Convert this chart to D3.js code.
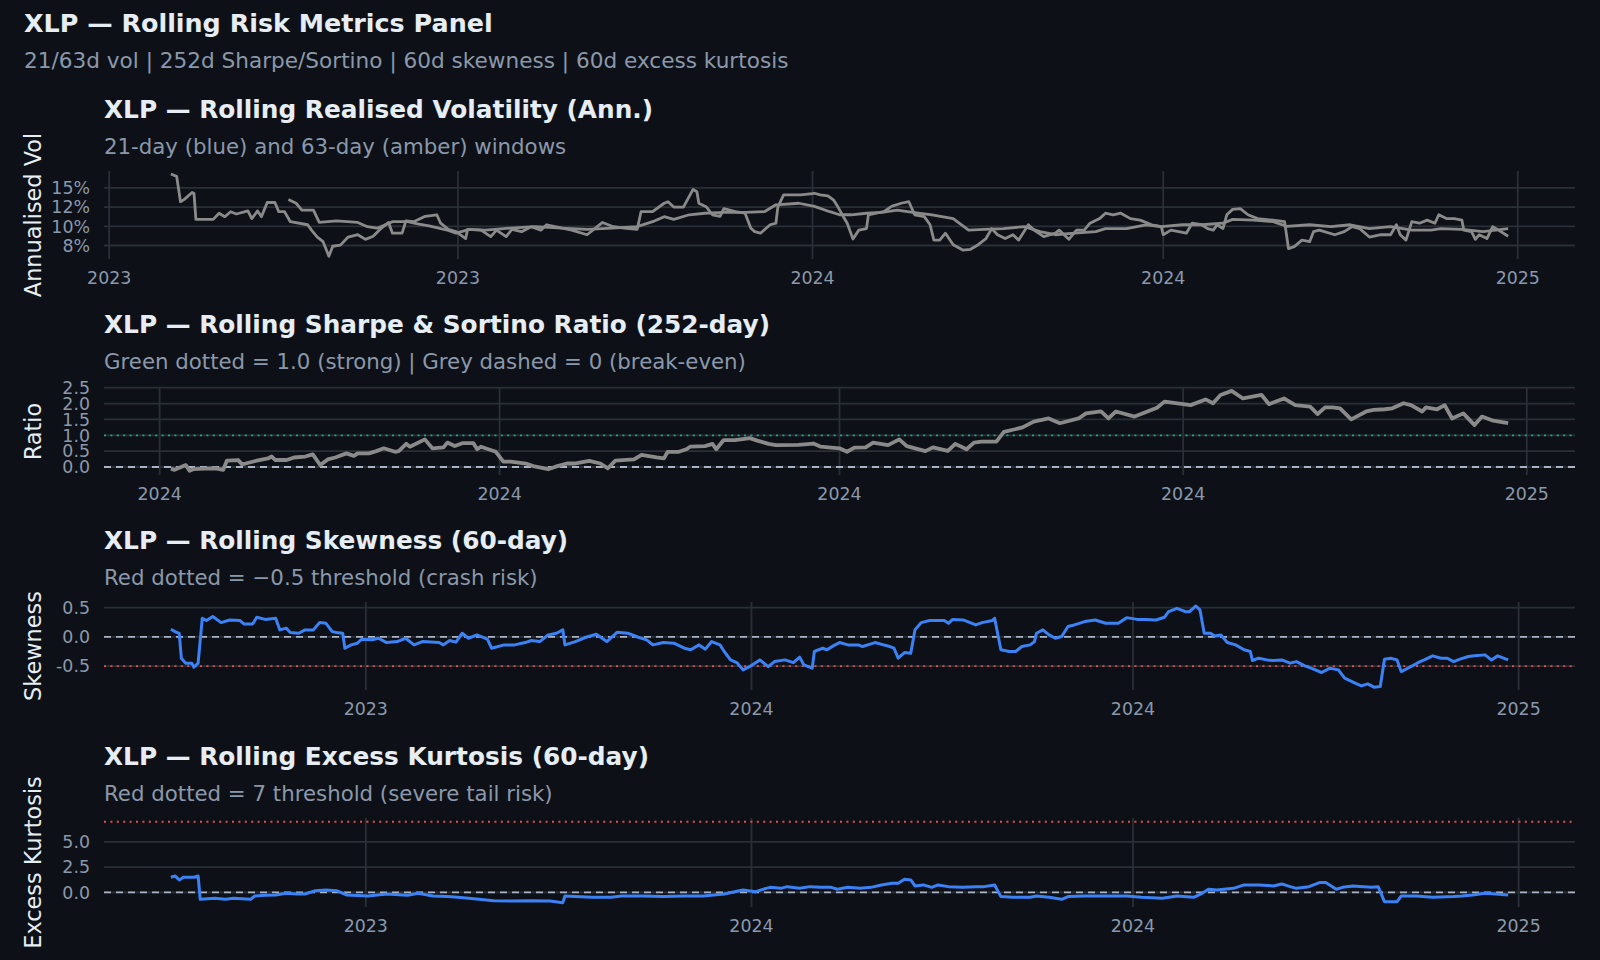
<!DOCTYPE html>
<html>
<head>
<meta charset="utf-8">
<script src="https://cdnjs.cloudflare.com/ajax/libs/d3/7.8.5/d3.min.js"></script>
<style>
body { margin: 0; background: #0d1117; }
svg { display: block; font-family: "DejaVu Sans", sans-serif; }
</style>
</head>
<body>
<script>
// rolling 21-day and 63-day annualised vol, in %
var vol21 = [["2023-02-02",16.8],["2023-02-05",16.5],["2023-02-07",13.2],["2023-02-09",13.5],["2023-02-13",14.4],["2023-02-14",14.3],["2023-02-15",10.9],["2023-02-24",10.9],["2023-02-27",11.7],["2023-03-02",11.25],["2023-03-05",11.9],["2023-03-08",11.6],["2023-03-14",12.0],["2023-03-16",11.0],["2023-03-19",12.0],["2023-03-21",11.25],["2023-03-24",13.1],["2023-03-28",13.1],["2023-03-30",11.9],["2023-04-02",11.9],["2023-04-05",10.6],["2023-04-14",10.2],["2023-04-16",9.5],["2023-04-19",8.6],["2023-04-22",8.0],["2023-04-25",6.1],["2023-04-27",7.4],["2023-05-01",7.55],["2023-05-05",8.6],["2023-05-10",8.9],["2023-05-14",8.3],["2023-05-18",8.7],["2023-05-22",9.7],["2023-05-26",10.5],["2023-05-28",9.1],["2023-06-02",9.1],["2023-06-04",10.7],["2023-06-08",10.6],["2023-06-14",11.3],["2023-06-20",11.5],["2023-06-22",10.4],["2023-06-26",9.6],["2023-06-30",9.3],["2023-07-05",8.4],["2023-07-06",9.6],["2023-07-13",9.5],["2023-07-18",8.65],["2023-07-21",9.5],["2023-07-26",8.65],["2023-07-29",9.6],["2023-08-03",9.3],["2023-08-08",9.95],["2023-08-13",9.5],["2023-08-16",10.2],["2023-08-24",9.75],["2023-08-29",9.5],["2023-09-06",8.9],["2023-09-14",10.5],["2023-09-19",10.0],["2023-09-25",9.75],["2023-10-02",9.6],["2023-10-04",11.9],["2023-10-10",11.9],["2023-10-16",13.0],["2023-10-18",13.2],["2023-10-21",12.5],["2023-10-26",12.5],["2023-10-31",14.8],["2023-11-02",14.5],["2023-11-03",13.0],["2023-11-07",12.5],["2023-11-10",11.5],["2023-11-14",11.3],["2023-11-16",12.3],["2023-11-22",11.9],["2023-11-27",11.7],["2023-11-30",9.75],["2023-12-02",9.3],["2023-12-05",9.1],["2023-12-10",10.2],["2023-12-13",10.4],["2023-12-14",12.5],["2023-12-17",14.1],["2023-12-26",14.1],["2024-01-02",14.3],["2024-01-05",14.1],["2024-01-09",13.95],["2024-01-12",13.4],["2024-01-14",12.6],["2024-01-17",11.25],["2024-01-19",10.4],["2024-01-22",8.35],["2024-01-25",9.5],["2024-01-29",9.7],["2024-01-30",11.5],["2024-02-03",11.7],["2024-02-07",11.9],["2024-02-11",12.6],["2024-02-16",13.0],["2024-02-20",13.2],["2024-02-23",11.5],["2024-02-28",11.25],["2024-03-02",10.2],["2024-03-04",8.2],["2024-03-07",8.2],["2024-03-10",9.1],["2024-03-14",7.6],["2024-03-19",6.9],["2024-03-23",7.0],["2024-03-27",7.6],["2024-03-31",8.4],["2024-04-03",9.7],["2024-04-06",8.9],["2024-04-10",8.4],["2024-04-14",8.9],["2024-04-17",8.2],["2024-04-22",10.2],["2024-04-25",9.5],["2024-04-30",8.65],["2024-05-06",9.1],["2024-05-08",9.5],["2024-05-13",8.3],["2024-05-17",9.5],["2024-05-21",9.5],["2024-05-24",10.4],["2024-05-29",11.0],["2024-06-01",11.7],["2024-06-05",11.5],["2024-06-09",11.7],["2024-06-14",11.0],["2024-06-19",10.8],["2024-06-25",10.2],["2024-06-30",9.95],["2024-07-01",8.9],["2024-07-05",9.5],["2024-07-13",9.1],["2024-07-16",10.4],["2024-07-21",10.2],["2024-07-24",9.7],["2024-07-27",9.5],["2024-07-29",10.2],["2024-08-01",9.7],["2024-08-03",11.5],["2024-08-06",12.2],["2024-08-10",12.3],["2024-08-14",11.5],["2024-08-19",11.0],["2024-08-27",10.8],["2024-09-02",10.6],["2024-09-04",7.1],["2024-09-07",7.35],["2024-09-11",8.2],["2024-09-15",8.0],["2024-09-17",9.3],["2024-09-20",9.5],["2024-09-28",8.9],["2024-10-03",9.3],["2024-10-07",9.95],["2024-10-11",9.7],["2024-10-16",8.6],["2024-10-22",8.9],["2024-10-27",8.9],["2024-10-30",10.2],["2024-11-01",8.9],["2024-11-04",8.2],["2024-11-07",10.6],["2024-11-11",10.4],["2024-11-15",10.8],["2024-11-19",10.4],["2024-11-21",11.5],["2024-11-25",11.0],["2024-11-29",11.0],["2024-12-03",10.8],["2024-12-04",9.5],["2024-12-08",9.3],["2024-12-10",8.3],["2024-12-12",8.9],["2024-12-16",8.4],["2024-12-19",9.95],["2024-12-22",9.5],["2024-12-27",8.7]]
var vol63 = [["2023-04-04",13.5],["2023-04-08",13.0],["2023-04-11",12.1],["2023-04-17",12.1],["2023-04-20",10.5],["2023-04-29",10.7],["2023-05-10",10.5],["2023-05-15",9.95],["2023-05-20",9.75],["2023-05-28",10.6],["2023-06-05",10.6],["2023-06-10",10.3],["2023-06-16",10.05],["2023-06-21",9.75],["2023-06-26",9.45],["2023-06-30",9.1],["2023-07-07",9.6],["2023-07-15",9.5],["2023-07-28",9.75],["2023-08-10",9.95],["2023-08-24",9.75],["2023-09-06",9.6],["2023-09-19",9.75],["2023-10-02",9.95],["2023-10-10",10.6],["2023-10-16",11.25],["2023-10-21",10.9],["2023-10-29",11.5],["2023-11-06",11.7],["2023-11-16",11.8],["2023-11-27",11.8],["2023-12-07",11.9],["2023-12-13",12.8],["2023-12-25",13.0],["2024-01-02",12.6],["2024-01-10",11.9],["2024-01-15",11.5],["2024-01-21",11.5],["2024-01-29",11.7],["2024-02-06",11.8],["2024-02-14",12.1],["2024-02-22",11.8],["2024-03-03",11.5],["2024-03-14",11.0],["2024-03-22",9.5],["2024-03-30",9.6],["2024-04-09",9.7],["2024-04-20",9.95],["2024-04-28",9.3],["2024-05-06",8.9],["2024-05-16",9.1],["2024-05-27",9.3],["2024-06-01",9.7],["2024-06-12",9.7],["2024-06-22",10.2],["2024-06-30",9.95],["2024-07-11",10.2],["2024-07-21",10.2],["2024-08-01",10.4],["2024-08-06",10.9],["2024-08-17",10.8],["2024-08-27",10.6],["2024-09-03",10.0],["2024-09-15",10.2],["2024-09-26",9.95],["2024-10-06",10.2],["2024-10-16",9.7],["2024-10-27",9.95],["2024-11-07",9.5],["2024-11-17",9.5],["2024-11-22",9.7],["2024-12-03",9.6],["2024-12-14",9.3],["2024-12-27",9.7]]

// rolling 252-day sharpe ratio
var sharpe = [["2024-01-04",-0.05],["2024-01-05",-0.09],["2024-01-08",0.06],["2024-01-09",-0.12],["2024-01-10",-0.07],["2024-01-13",-0.05],["2024-01-16",-0.04],["2024-01-18",-0.09],["2024-01-19",0.2],["2024-01-22",0.22],["2024-01-23",0.09],["2024-01-24",0.11],["2024-01-27",0.2],["2024-01-30",0.27],["2024-01-31",0.33],["2024-02-01",0.22],["2024-02-04",0.22],["2024-02-06",0.3],["2024-02-09",0.33],["2024-02-11",0.4],["2024-02-13",0.06],["2024-02-15",0.24],["2024-02-17",0.3],["2024-02-20",0.43],["2024-02-22",0.35],["2024-02-23",0.43],["2024-02-26",0.43],["2024-02-28",0.5],["2024-03-01",0.59],["2024-03-04",0.48],["2024-03-05",0.5],["2024-03-07",0.73],["2024-03-08",0.64],["2024-03-12",0.87],["2024-03-14",0.59],["2024-03-17",0.62],["2024-03-18",0.77],["2024-03-20",0.66],["2024-03-22",0.75],["2024-03-25",0.75],["2024-03-26",0.56],["2024-03-27",0.64],["2024-03-29",0.56],["2024-03-31",0.48],["2024-04-02",0.17],["2024-04-04",0.17],["2024-04-08",0.11],["2024-04-10",0.03],["2024-04-14",-0.07],["2024-04-16",0.01],["2024-04-19",0.11],["2024-04-21",0.11],["2024-04-25",0.19],["2024-04-28",0.11],["2024-04-30",-0.04],["2024-05-02",0.2],["2024-05-07",0.24],["2024-05-09",0.38],["2024-05-13",0.3],["2024-05-15",0.27],["2024-05-16",0.48],["2024-05-19",0.48],["2024-05-21",0.56],["2024-05-22",0.64],["2024-05-26",0.66],["2024-05-28",0.73],["2024-05-29",0.56],["2024-05-31",0.85],["2024-06-03",0.85],["2024-06-07",0.91],["2024-06-09",0.83],["2024-06-12",0.73],["2024-06-14",0.69],["2024-06-20",0.7],["2024-06-24",0.74],["2024-06-26",0.64],["2024-06-28",0.62],["2024-07-01",0.59],["2024-07-03",0.48],["2024-07-05",0.61],["2024-07-08",0.62],["2024-07-10",0.77],["2024-07-14",0.69],["2024-07-17",0.87],["2024-07-19",0.66],["2024-07-24",0.5],["2024-07-26",0.62],["2024-07-30",0.51],["2024-08-01",0.73],["2024-08-04",0.56],["2024-08-06",0.77],["2024-08-08",0.8],["2024-08-12",0.8],["2024-08-14",1.11],["2024-08-17",1.19],["2024-08-19",1.25],["2024-08-22",1.43],["2024-08-26",1.53],["2024-08-29",1.38],["2024-09-03",1.53],["2024-09-05",1.69],["2024-09-09",1.75],["2024-09-11",1.53],["2024-09-13",1.75],["2024-09-18",1.59],["2024-09-24",1.87],["2024-09-26",2.06],["2024-10-03",1.95],["2024-10-07",2.13],["2024-10-09",2.01],["2024-10-11",2.27],["2024-10-14",2.4],["2024-10-17",2.16],["2024-10-22",2.27],["2024-10-24",1.98],["2024-10-28",2.16],["2024-10-31",1.95],["2024-11-04",1.9],["2024-11-06",1.67],["2024-11-08",1.88],["2024-11-10",1.88],["2024-11-12",1.85],["2024-11-15",1.5],["2024-11-19",1.75],["2024-11-21",1.8],["2024-11-24",1.82],["2024-11-26",1.85],["2024-11-29",2.01],["2024-12-01",1.95],["2024-12-04",1.75],["2024-12-05",1.88],["2024-12-08",1.82],["2024-12-10",1.95],["2024-12-12",1.53],["2024-12-15",1.69],["2024-12-18",1.32],["2024-12-20",1.59],["2024-12-23",1.46],["2024-12-27",1.38]]

// rolling 60-day skewness
var skew = [["2023-03-30",0.13],["2023-04-01",0.09],["2023-04-03",0.06],["2023-04-04",-0.365],["2023-04-06",-0.45],["2023-04-09",-0.45],["2023-04-10",-0.52],["2023-04-12",-0.45],["2023-04-14",0.32],["2023-04-16",0.28],["2023-04-19",0.35],["2023-04-23",0.245],["2023-04-27",0.29],["2023-05-02",0.28],["2023-05-04",0.22],["2023-05-08",0.22],["2023-05-10",0.336],["2023-05-14",0.30],["2023-05-19",0.32],["2023-05-21",0.12],["2023-05-24",0.15],["2023-05-26",0.074],["2023-05-30",0.063],["2023-06-02",0.12],["2023-06-06",0.12],["2023-06-09",0.245],["2023-06-12",0.233],["2023-06-15",0.09],["2023-06-17",0.074],["2023-06-20",0.063],["2023-06-21",-0.194],["2023-06-24",-0.137],["2023-06-27",-0.108],["2023-06-29",-0.04],["2023-07-04",-0.05],["2023-07-07",-0.023],["2023-07-11",-0.097],["2023-07-16",-0.08],["2023-07-20",-0.023],["2023-07-24",-0.137],["2023-07-28",-0.08],["2023-08-05",-0.097],["2023-08-07",-0.137],["2023-08-10",-0.062],["2023-08-13",-0.09],["2023-08-16",0.063],["2023-08-19",-0.023],["2023-08-23",0.034],["2023-08-28",-0.04],["2023-08-30",-0.194],["2023-09-05",-0.137],["2023-09-10",-0.137],["2023-09-15",-0.097],["2023-09-18",-0.062],["2023-09-22",-0.08],["2023-09-26",0.034],["2023-09-30",0.063],["2023-10-03",0.12],["2023-10-04",-0.137],["2023-10-09",-0.08],["2023-10-14",-0.006],["2023-10-19",0.046],["2023-10-24",-0.08],["2023-10-29",0.08],["2023-11-03",0.063],["2023-11-08",-0.006],["2023-11-12",-0.05],["2023-11-15",-0.137],["2023-11-20",-0.097],["2023-11-25",-0.108],["2023-11-30",-0.194],["2023-12-03",-0.22],["2023-12-07",-0.137],["2023-12-10",-0.21],["2023-12-13",-0.08],["2023-12-17",-0.137],["2023-12-19",-0.25],["2023-12-22",-0.394],["2023-12-25",-0.44],["2023-12-28",-0.565],["2023-12-31",-0.51],["2024-01-05",-0.394],["2024-01-09",-0.51],["2024-01-12",-0.423],["2024-01-17",-0.394],["2024-01-21",-0.44],["2024-01-24",-0.348],["2024-01-26",-0.48],["2024-01-30",-0.536],["2024-01-31",-0.25],["2024-02-04",-0.194],["2024-02-06",-0.22],["2024-02-09",-0.154],["2024-02-12",-0.097],["2024-02-16",-0.137],["2024-02-21",-0.137],["2024-02-23",-0.165],["2024-02-27",-0.12],["2024-02-29",-0.097],["2024-03-04",-0.137],["2024-03-07",-0.165],["2024-03-09",-0.194],["2024-03-11",-0.365],["2024-03-14",-0.268],["2024-03-17",-0.28],["2024-03-19",0.12],["2024-03-22",0.245],["2024-03-26",0.28],["2024-04-02",0.28],["2024-04-04",0.233],["2024-04-06",0.30],["2024-04-11",0.29],["2024-04-17",0.205],["2024-04-20",0.245],["2024-04-25",0.28],["2024-04-26",0.32],["2024-04-29",-0.22],["2024-05-03",-0.25],["2024-05-06",-0.25],["2024-05-09",-0.165],["2024-05-13",-0.137],["2024-05-15",-0.08],["2024-05-16",0.063],["2024-05-19",0.12],["2024-05-22",0.034],["2024-05-25",-0.023],["2024-05-28",0.006],["2024-05-31",0.177],["2024-06-03",0.205],["2024-06-08",0.262],["2024-06-13",0.29],["2024-06-18",0.233],["2024-06-24",0.233],["2024-06-28",0.33],["2024-07-03",0.30],["2024-07-07",0.30],["2024-07-12",0.29],["2024-07-16",0.336],["2024-07-18",0.433],["2024-07-22",0.49],["2024-07-26",0.433],["2024-07-28",0.433],["2024-07-31",0.53],["2024-08-02",0.462],["2024-08-04",0.063],["2024-08-07",0.063],["2024-08-09",0.017],["2024-08-12",0.034],["2024-08-15",-0.097],["2024-08-19",-0.137],["2024-08-23",-0.22],["2024-08-26",-0.25],["2024-08-27",-0.405],["2024-08-30",-0.365],["2024-09-03",-0.394],["2024-09-06",-0.405],["2024-09-10",-0.394],["2024-09-14",-0.45],["2024-09-17",-0.423],["2024-09-21",-0.496],["2024-09-24",-0.536],["2024-09-29",-0.61],["2024-10-03",-0.536],["2024-10-07",-0.565],["2024-10-10",-0.707],["2024-10-15",-0.793],["2024-10-18",-0.84],["2024-10-21",-0.805],["2024-10-24",-0.862],["2024-10-27",-0.85],["2024-10-29",-0.382],["2024-11-01",-0.365],["2024-11-04",-0.394],["2024-11-06",-0.594],["2024-11-10",-0.52],["2024-11-15",-0.423],["2024-11-17",-0.394],["2024-11-21",-0.325],["2024-11-25",-0.365],["2024-11-28",-0.365],["2024-12-01",-0.423],["2024-12-04",-0.382],["2024-12-08",-0.336],["2024-12-11",-0.325],["2024-12-16",-0.308],["2024-12-19",-0.394],["2024-12-22",-0.325],["2024-12-27",-0.394]]

// rolling 60-day excess kurtosis
var kurt = [["2023-03-30",1.49],["2023-04-01",1.62],["2023-04-03",1.22],["2023-04-05",1.49],["2023-04-10",1.49],["2023-04-12",1.62],["2023-04-13",-0.7],["2023-04-20",-0.6],["2023-04-25",-0.7],["2023-04-29",-0.6],["2023-05-07",-0.7],["2023-05-09",-0.37],["2023-05-14",-0.3],["2023-05-19",-0.27],["2023-05-24",-0.1],["2023-05-29",-0.17],["2023-06-02",-0.17],["2023-06-07",0.16],["2023-06-12",0.23],["2023-06-17",0.16],["2023-06-22",-0.27],["2023-07-02",-0.37],["2023-07-11",-0.17],["2023-07-21",-0.3],["2023-07-26",-0.1],["2023-08-02",-0.37],["2023-08-09",-0.43],["2023-08-14",-0.5],["2023-08-24",-0.7],["2023-08-31",-0.83],["2023-09-08",-0.87],["2023-09-18",-0.83],["2023-09-27",-0.87],["2023-10-03",-1.03],["2023-10-04",-0.37],["2023-10-09",-0.43],["2023-10-17",-0.5],["2023-10-26",-0.5],["2023-10-31",-0.37],["2023-11-10",-0.37],["2023-11-20",-0.43],["2023-11-30",-0.37],["2023-12-09",-0.37],["2023-12-19",-0.17],["2023-12-24",0.06],["2023-12-28",0.23],["2024-01-03",0.06],["2024-01-08",0.39],["2024-01-10",0.49],["2024-01-15",0.39],["2024-01-18",0.56],["2024-01-24",0.39],["2024-01-29",0.56],["2024-02-03",0.49],["2024-02-08",0.49],["2024-02-11",0.3],["2024-02-16",0.49],["2024-02-22",0.39],["2024-02-27",0.49],["2024-03-03",0.73],["2024-03-08",0.89],["2024-03-11",0.89],["2024-03-14",1.29],["2024-03-17",1.22],["2024-03-19",0.63],["2024-03-23",0.73],["2024-03-27",0.49],["2024-03-30",0.73],["2024-04-04",0.56],["2024-04-11",0.49],["2024-04-17",0.56],["2024-04-21",0.56],["2024-04-26",0.73],["2024-04-29",-0.43],["2024-05-05",-0.5],["2024-05-13",-0.5],["2024-05-16",-0.37],["2024-05-22",-0.5],["2024-05-28",-0.7],["2024-05-31",-0.43],["2024-06-08",-0.37],["2024-06-18",-0.37],["2024-06-28",-0.37],["2024-07-05",-0.5],["2024-07-15",-0.6],["2024-07-22",-0.37],["2024-07-30",-0.5],["2024-08-03",-0.1],["2024-08-06",0.3],["2024-08-10",0.23],["2024-08-18",0.39],["2024-08-23",0.73],["2024-08-30",0.73],["2024-09-06",0.63],["2024-09-10",0.83],["2024-09-14",0.56],["2024-09-17",0.39],["2024-09-23",0.56],["2024-09-28",0.96],["2024-10-01",0.96],["2024-10-06",0.3],["2024-10-09",0.49],["2024-10-14",0.63],["2024-10-19",0.56],["2024-10-23",0.49],["2024-10-26",0.56],["2024-10-29",-0.93],["2024-11-04",-0.93],["2024-11-06",-0.37],["2024-11-13",-0.37],["2024-11-21",-0.5],["2024-12-01",-0.43],["2024-12-05",-0.37],["2024-12-10",-0.27],["2024-12-16",-0.1],["2024-12-21",-0.17],["2024-12-27",-0.27]]

// axis ticks
var volTicks = [7.5, 10, 12.5, 15]
var volTickLabels = ['8%', '10%', '12%', '15%']
var ratioTicks = [0, 0.5, 1, 1.5, 2, 2.5]
var skewTicks = [-0.5, 0, 0.5]
var kurtTicks = [0, 2.5, 5]
var halfYearTicks = ['2023-01-01', '2023-07-01', '2024-01-01', '2024-07-01', '2025-01-01']
var quarterTicks = ['2024-01-01', '2024-04-01', '2024-07-01', '2024-10-01', '2025-01-01']
var lateTicks = ['2023-07-01', '2024-01-01', '2024-07-01', '2025-01-01']

var parse = d3.timeParse('%Y-%m-%d')
var fmtYear = d3.timeFormat('%Y')

var C = {
	bg: '#0d1117',
	grid: '#2a2f37',
	text: '#e6edf3',
	muted: '#8b98ab',
	gray: '#8a8a8a',
	blue: '#3b82f6',
	zero: '#a9b3c1',
	green: '#1fa67f',
	red: '#ea4b4b'
}

var panels = [
	{
		title: 'XLP \u2014 Rolling Realised Volatility (Ann.)',
		sub: '21-day (blue) and 63-day (amber) windows',
		ytitle: 'Annualised Vol',
		titleY: 109, subY: 146, top: 171, bottom: 259,
		yDomain: [5.74, 17.2],
		yTicks: volTicks, yLabels: volTickLabels,
		xTicks: halfYearTicks,
		series: [{ data: vol21, color: C.gray, width: 2.8 }, { data: vol63, color: C.gray, width: 2.8 }],
		refs: []
	},
	{
		title: 'XLP \u2014 Rolling Sharpe & Sortino Ratio (252-day)',
		sub: 'Green dotted = 1.0 (strong) | Grey dashed = 0 (break-even)',
		ytitle: 'Ratio',
		titleY: 324.5, subY: 361, top: 388, bottom: 475,
		yDomain: [-0.252, 2.49],
		yTicks: ratioTicks, yLabels: ratioTicks.map(d3.format('.1f')),
		xTicks: quarterTicks,
		series: [{ data: sharpe, color: C.gray, width: 3.8 }],
		refs: [{ v: 0, color: C.zero, dash: '7,5' }, { v: 1, color: C.green, dash: '2,4.4' }]
	},
	{
		title: 'XLP \u2014 Rolling Skewness (60-day)',
		sub: 'Red dotted = \u22120.5 threshold (crash risk)',
		ytitle: 'Skewness',
		titleY: 540, subY: 577.5, top: 602, bottom: 690,
		yDomain: [-0.91, 0.598],
		yTicks: skewTicks, yLabels: skewTicks.map(d3.format('.1f')).map(function(s) { return s.replace('\u2212', '-') }),
		xTicks: lateTicks,
		series: [{ data: skew, color: C.blue, width: 3 }],
		refs: [{ v: 0, color: C.zero, dash: '7,5' }, { v: -0.5, color: C.red, dash: '2,4.4' }]
	},
	{
		title: 'XLP \u2014 Rolling Excess Kurtosis (60-day)',
		sub: 'Red dotted = 7 threshold (severe tail risk)',
		ytitle: 'Excess Kurtosis',
		titleY: 756, subY: 793, top: 818, bottom: 907,
		yDomain: [-1.46, 7.37],
		yTicks: kurtTicks, yLabels: kurtTicks.map(d3.format('.1f')),
		xTicks: lateTicks,
		series: [{ data: kurt, color: C.blue, width: 3 }],
		refs: [{ v: 0, color: C.zero, dash: '7,5' }, { v: 7, color: C.red, dash: '2,4.4' }]
	}
]

var W = 1600, H = 960
var left = 104, right = 1575

var svg = d3.select('body').append('svg')
	.attr('width', W)
	.attr('height', H)

svg.append('rect').attr('width', W).attr('height', H).attr('fill', C.bg)

svg.append('text')
	.attr('x', 24).attr('y', 23).attr('dy', '0.36em')
	.attr('fill', C.text).attr('font-size', 25.4).attr('font-weight', 'bold')
	.text('XLP \u2014 Rolling Risk Metrics Panel')

svg.append('text')
	.attr('x', 24).attr('y', 60).attr('dy', '0.36em')
	.attr('fill', C.muted).attr('font-size', 21.6)
	.text('21/63d vol | 252d Sharpe/Sortino | 60d skewness | 60d excess kurtosis')

panels.forEach(function(p) {
	var g = svg.append('g')

	// x domain: data extent padded by 5% each side
	var all = []
	p.series.forEach(function(s) { s.data.forEach(function(d) { all.push(parse(d[0])) }) })
	var ext = d3.extent(all)
	var pad = (ext[1] - ext[0]) * 0.05
	var x = d3.scaleTime()
		.domain([new Date(+ext[0] - pad), new Date(+ext[1] + pad)])
		.range([left, right])
	var y = d3.scaleLinear().domain(p.yDomain).range([p.bottom, p.top])

	g.append('text')
		.attr('x', left).attr('y', p.titleY).attr('dy', '0.36em')
		.attr('fill', C.text).attr('font-size', 24.8).attr('font-weight', 'bold')
		.text(p.title)
	g.append('text')
		.attr('x', left).attr('y', p.subY).attr('dy', '0.36em')
		.attr('fill', C.muted).attr('font-size', 21.3)
		.text(p.sub)

	// grid
	g.selectAll('.hg').data(p.yTicks).enter().append('line')
		.attr('x1', left).attr('x2', right)
		.attr('y1', function(d) { return y(d) }).attr('y2', function(d) { return y(d) })
		.attr('stroke', C.grid).attr('stroke-width', 1.8)
	var xt = p.xTicks.map(parse)
	g.selectAll('.vg').data(xt).enter().append('line')
		.attr('x1', function(d) { return x(d) }).attr('x2', function(d) { return x(d) })
		.attr('y1', p.top).attr('y2', p.bottom)
		.attr('stroke', C.grid).attr('stroke-width', 1.8)

	// tick labels
	g.selectAll('.yl').data(p.yTicks).enter().append('text')
		.attr('x', 90).attr('y', function(d) { return y(d) }).attr('dy', '0.36em')
		.attr('text-anchor', 'end').attr('fill', C.muted).attr('font-size', 17.4)
		.text(function(d, i) { return p.yLabels[i] })
	g.selectAll('.xl').data(xt).enter().append('text')
		.attr('x', function(d) { return x(d) }).attr('y', p.bottom + 19).attr('dy', '0.36em')
		.attr('text-anchor', 'middle').attr('fill', C.muted).attr('font-size', 17.4)
		.text(fmtYear)

	g.append('text')
		.attr('transform', 'translate(33,' + ((p.top + p.bottom) / 2) + ') rotate(-90)')
		.attr('dy', '0.36em').attr('text-anchor', 'middle')
		.attr('fill', C.text).attr('font-size', 22.4)
		.text(p.ytitle)

	// reference lines
	p.refs.forEach(function(r) {
		g.append('line')
			.attr('x1', left).attr('x2', right)
			.attr('y1', y(r.v)).attr('y2', y(r.v))
			.attr('stroke', r.color).attr('stroke-width', 1.8)
			.attr('stroke-dasharray', r.dash)
	})

	var line = d3.line()
		.x(function(d) { return x(parse(d[0])) })
		.y(function(d) { return y(d[1]) })

	p.series.forEach(function(s) {
		g.append('path')
			.datum(s.data)
			.attr('d', line)
			.attr('fill', 'none')
			.attr('stroke', s.color)
			.attr('stroke-width', s.width)
			.attr('stroke-linejoin', 'round')
	})
})
</script>
</body>
</html>
